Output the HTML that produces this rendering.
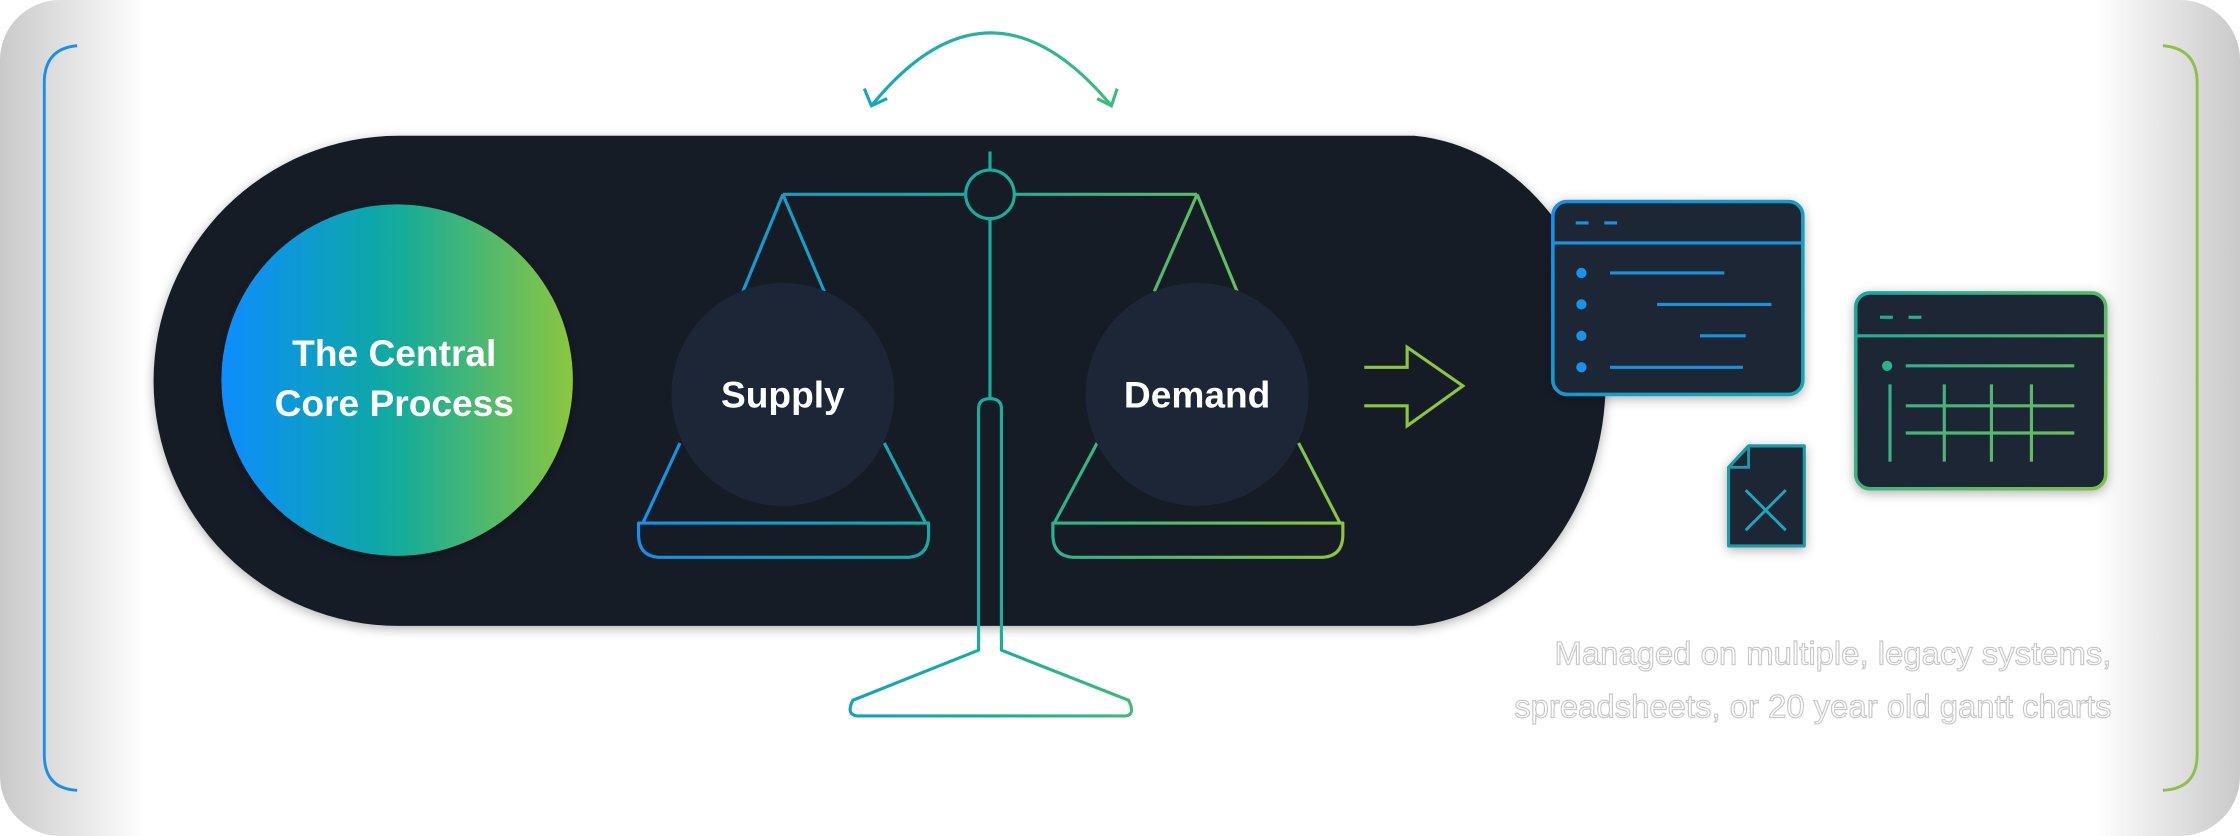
<!DOCTYPE html>
<html><head><meta charset="utf-8"><style>
html,body{margin:0;padding:0;background:#fff;}
svg{display:block;}
</style></head><body>
<svg width="2240" height="836" viewBox="0 0 1568 585" preserveAspectRatio="none" xmlns="http://www.w3.org/2000/svg">
<defs>
<linearGradient id="bgL" x1="0" x2="1" y1="0" y2="0">
<stop offset="0" stop-color="#c9c9c9"/><stop offset="0.065" stop-color="#ffffff"/><stop offset="0.935" stop-color="#ffffff"/><stop offset="1" stop-color="#c9c9c9"/>
</linearGradient>
<linearGradient id="core" x1="0" x2="1" y1="0" y2="0">
<stop offset="0" stop-color="#0a8dff"/><stop offset="0.5" stop-color="#12ab9c"/><stop offset="1" stop-color="#8cc63f"/>
</linearGradient>
<linearGradient id="sc" gradientUnits="userSpaceOnUse" x1="447" x2="940" y1="0" y2="0">
<stop offset="0" stop-color="#1690e8"/><stop offset="0.5" stop-color="#17ae9c"/><stop offset="1" stop-color="#8cc63f"/>
</linearGradient>
<linearGradient id="arc" gradientUnits="userSpaceOnUse" x1="605" x2="780" y1="0" y2="0">
<stop offset="0" stop-color="#15a6c4"/><stop offset="1" stop-color="#3dbb7e"/>
</linearGradient>
<linearGradient id="w1" gradientUnits="userSpaceOnUse" x1="1087" x2="1262" y1="141" y2="276">
<stop offset="0" stop-color="#1690e8"/><stop offset="1" stop-color="#16a6b0"/>
</linearGradient>
<linearGradient id="w2" gradientUnits="userSpaceOnUse" x1="1299" x2="1474" y1="205" y2="342">
<stop offset="0" stop-color="#17a9a0"/><stop offset="1" stop-color="#7ec24a"/>
</linearGradient>
<filter id="sh" x="-20%" y="-20%" width="140%" height="140%"><feDropShadow dx="0" dy="2" stdDeviation="4" flood-color="#000" flood-opacity="0.3"/></filter>
</defs>
<rect x="0" y="0" width="1568" height="585" rx="42" fill="url(#bgL)"/>
<path d="M54 32 Q31 34 31 58 L31 528 Q31 552 54 553" fill="none" stroke="#1a8fe8" stroke-width="2"/>
<path d="M1514 32 Q1538 34 1538 58 L1538 528 Q1538 552 1514 553" fill="none" stroke="#8cc04a" stroke-width="2"/>
<path d="M610 74 Q693 -28 778 74" fill="none" stroke="url(#arc)" stroke-width="2.2"/>
<path d="M605 62 L610 74 L621 69" fill="none" stroke="#15a6c4" stroke-width="2.2"/>
<path d="M768 69 L778 74 L782 62" fill="none" stroke="#3dbb7e" stroke-width="2.2"/>
<path d="M279 95 L990 95 A145 172 0 0 1 990 438 L279 438 A171.5 171.5 0 0 1 279 95 Z" fill="#141c27" filter="url(#sh)"/>
<circle cx="278" cy="266" r="123" fill="url(#core)" filter="url(#sh)"/>
<text x="276" y="256" text-anchor="middle" font-family="Liberation Sans, sans-serif" font-weight="bold" font-size="26" fill="#fff">The Central</text>
<text x="276" y="291" text-anchor="middle" font-family="Liberation Sans, sans-serif" font-weight="bold" font-size="26" fill="#fff">Core Process</text>
<g fill="none" stroke="url(#sc)" stroke-width="2.2" stroke-linejoin="round">
<line x1="548" y1="136" x2="676" y2="136"/>
<line x1="710" y1="136" x2="838" y2="136"/>
<circle cx="693" cy="136" r="17"/>
<line x1="693" y1="106" x2="693" y2="119"/>
<line x1="693" y1="153" x2="693" y2="280"/>
<path d="M685 455 L685 286 Q685 279 693 279 Q701 279 701 286 L701 455 L790 490 Q795 500 788 501 L600 501 Q592 500 597 490 Z"/>
<path d="M548 136 L520 204 M548 136 L577 204 M476 310 L450 366 M619 310 L648 366"/>
<path d="M447 366 L650 366 L650 374 Q650 390 634 390 L463 390 Q447 390 447 374 Z"/>
<path d="M838 136 L808 204 M838 136 L866 204 M768 310 L738 366 M909 310 L938 366"/>
<path d="M737 366 L940 366 L940 374 Q940 390 924 390 L753 390 Q737 390 737 374 Z"/>
</g>
<circle cx="548" cy="276" r="78" fill="#1c2636"/>
<circle cx="838" cy="276" r="78" fill="#1c2636"/>
<text x="548" y="285" text-anchor="middle" font-family="Liberation Sans, sans-serif" font-weight="bold" font-size="26" fill="#fff">Supply</text>
<text x="838" y="285" text-anchor="middle" font-family="Liberation Sans, sans-serif" font-weight="bold" font-size="26" fill="#fff">Demand</text>
<path d="M955 257 L985 257 L985 243 L1024 270 L985 298 L985 284 L955 284" fill="none" stroke="#8cc63f" stroke-width="2.2"/>
<g filter="url(#sh)"><rect x="1087" y="141" width="175" height="135" rx="10" fill="#1c2636" stroke="url(#w1)" stroke-width="2.5"/></g>
<g stroke="#1a92e0" stroke-width="2.2">
<line x1="1088" y1="170" x2="1261" y2="170"/>
<line x1="1103" y1="156" x2="1112" y2="156"/><line x1="1123" y1="156" x2="1132" y2="156"/>
<line x1="1127" y1="191" x2="1207" y2="191"/><line x1="1160" y1="213" x2="1240" y2="213"/>
<line x1="1190" y1="235" x2="1222" y2="235"/><line x1="1127" y1="257" x2="1220" y2="257"/>
</g>
<g fill="#1a92e8"><circle cx="1107" cy="191" r="3.6"/><circle cx="1107" cy="213" r="3.6"/><circle cx="1107" cy="235" r="3.6"/><circle cx="1107" cy="257" r="3.6"/></g>
<g filter="url(#sh)"><rect x="1299" y="205" width="175" height="137" rx="10" fill="#1c2636" stroke="url(#w2)" stroke-width="2.5"/></g>
<g stroke="url(#w2)" stroke-width="2.2">
<line x1="1300" y1="235" x2="1473" y2="235"/>
<line x1="1316" y1="222" x2="1325" y2="222"/><line x1="1336" y1="222" x2="1345" y2="222"/>
<line x1="1334" y1="256" x2="1452" y2="256"/>
<line x1="1323" y1="269" x2="1323" y2="323"/>
<line x1="1334" y1="284" x2="1452" y2="284"/><line x1="1334" y1="303" x2="1452" y2="303"/>
<line x1="1361" y1="269" x2="1361" y2="323"/><line x1="1394" y1="269" x2="1394" y2="323"/><line x1="1422" y1="269" x2="1422" y2="323"/>
</g>
<circle cx="1321" cy="256" r="3.6" fill="#2ab38a"/>
<g filter="url(#sh)"><path d="M1224 312 L1263 312 L1263 382 L1210 382 L1210 327 Z" fill="#1c2636" stroke="#1b9aa8" stroke-width="2.2" stroke-linejoin="round"/></g>
<path d="M1224 312 L1224 327 L1210 327" fill="none" stroke="#1b9aa8" stroke-width="2"/>
<path d="M1222 343 L1250 371 M1250 343 L1222 371" stroke="#1ba8b8" stroke-width="2"/>
<g font-family="Liberation Sans, sans-serif" font-size="23" fill="#fff" stroke="#c8c8c8" stroke-width="0.8" text-anchor="end">
<text x="1478" y="465">Managed on multiple, legacy systems,</text>
<text x="1478" y="502">spreadsheets, or 20 year old gantt charts</text>
</g>
</svg>
</body></html>
